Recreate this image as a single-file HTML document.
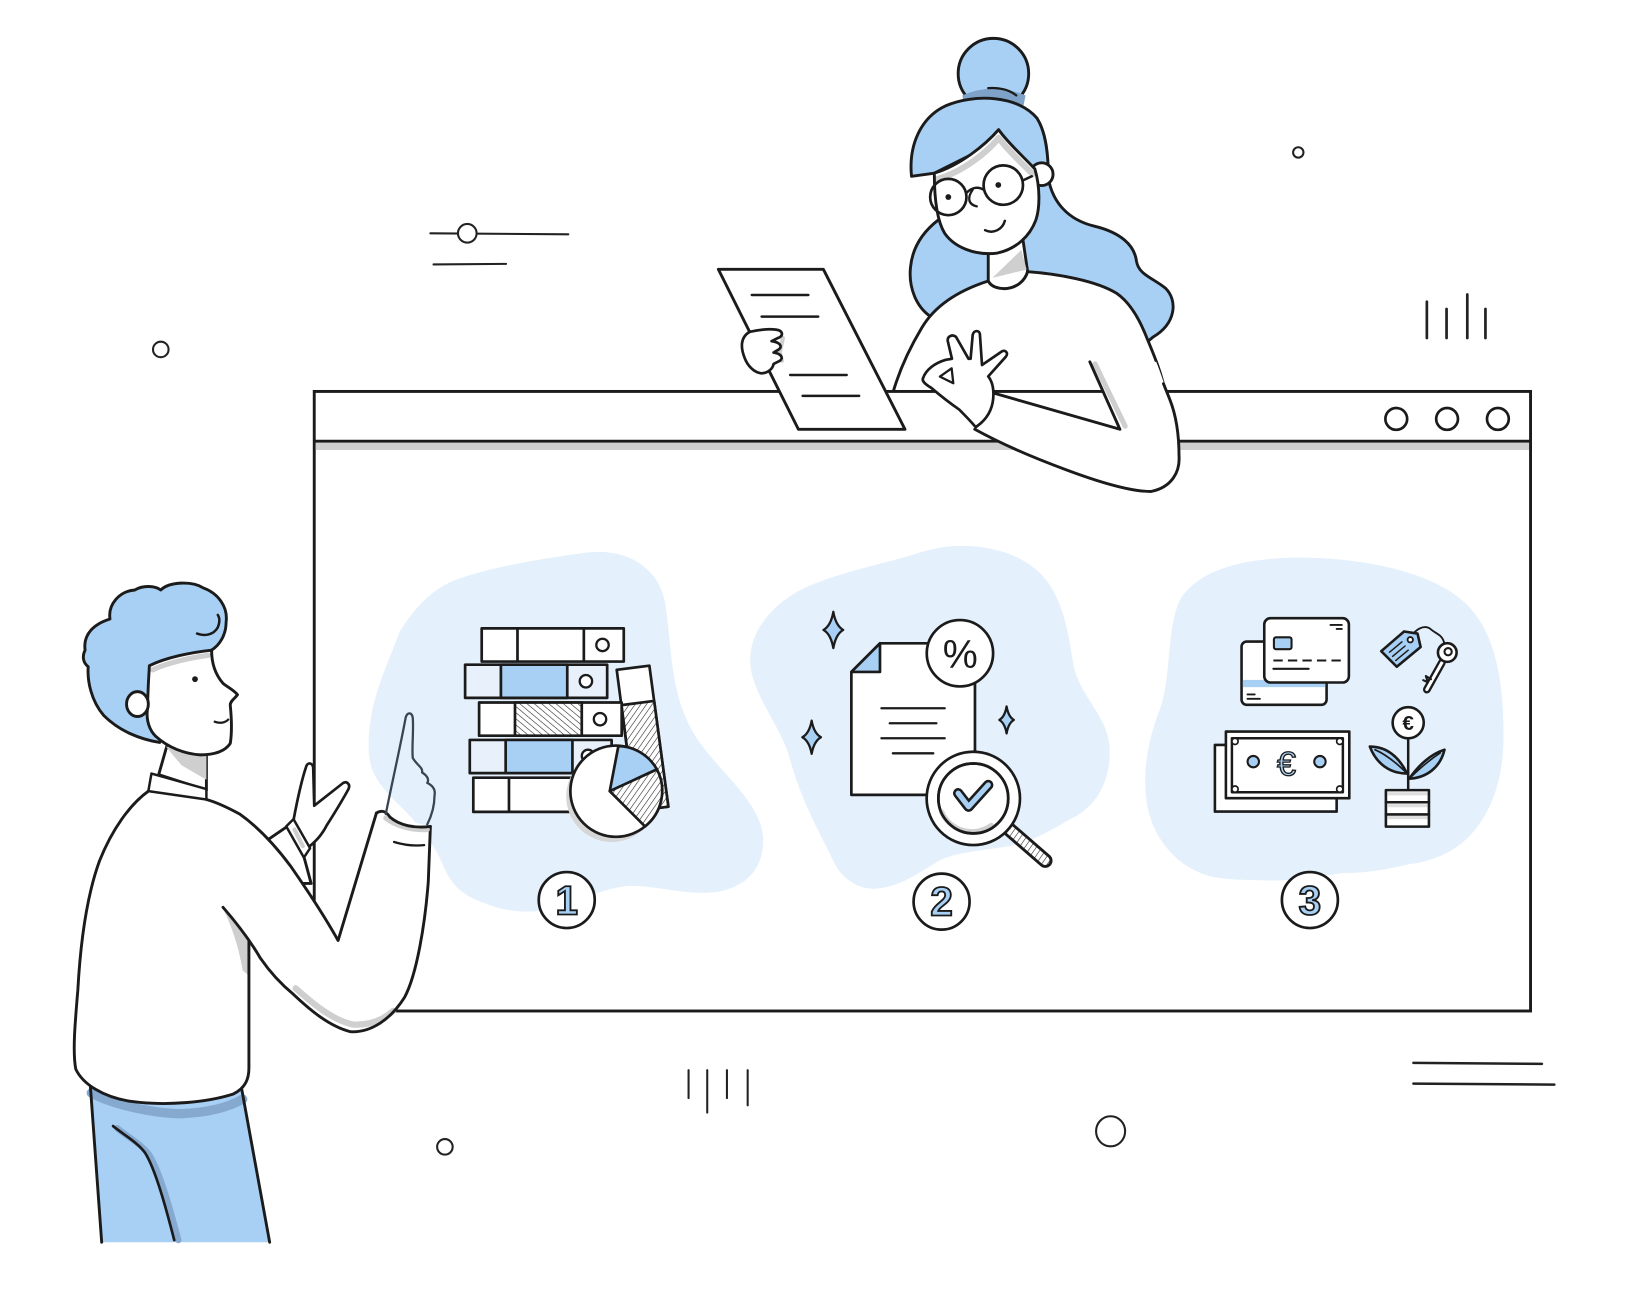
<!DOCTYPE html>
<html><head><meta charset="utf-8"><style>html,body{margin:0;padding:0;background:#fff;}svg{display:block}</style></head>
<body>
<svg xmlns="http://www.w3.org/2000/svg" width="1626" height="1292" viewBox="0 0 1568 1246">
<defs>
<pattern id="hA" width="4.5" height="4.5" patternUnits="userSpaceOnUse" patternTransform="rotate(35)"><rect width="4.5" height="4.5" fill="#fff"/><line x1="0" y1="0" x2="0" y2="4.5" stroke="#222" stroke-width="1.1"/></pattern>
<pattern id="hB" width="4.5" height="4.5" patternUnits="userSpaceOnUse" patternTransform="rotate(-50)"><rect width="4.5" height="4.5" fill="#fff"/><line x1="0" y1="0" x2="0" y2="4.5" stroke="#222" stroke-width="1.1"/></pattern>
</defs>
<rect width="1568" height="1246" fill="#fff"/>

<!-- decorations -->
<g stroke="#222" stroke-width="2" fill="none" stroke-linecap="round">
<line x1="415" y1="225" x2="548" y2="226"/>
<circle cx="450.6" cy="225" r="9" fill="#fff"/>
<line x1="418" y1="255" x2="488" y2="254.5"/>
<circle cx="155" cy="337" r="7.5"/>
<circle cx="1252" cy="147" r="5"/>
<circle cx="702" cy="506" r="8"/>
<circle cx="429" cy="1106" r="7.5"/>
<ellipse cx="1071" cy="1091" rx="14" ry="14.5"/>
<line x1="1376" y1="291" x2="1376" y2="326" stroke-width="2.6"/>
<line x1="1395" y1="298" x2="1395" y2="326" stroke-width="2.6"/>
<line x1="1415" y1="284" x2="1415" y2="326" stroke-width="2.6"/>
<line x1="1432.5" y1="298" x2="1432.5" y2="326" stroke-width="2.6"/>
<line x1="664" y1="1032" x2="664" y2="1059"/>
<line x1="682" y1="1032" x2="682" y2="1073"/>
<line x1="701" y1="1032" x2="701" y2="1059"/>
<line x1="721" y1="1032" x2="721" y2="1066"/>
<line x1="1363" y1="1025" x2="1487" y2="1026" stroke-width="2.4"/>
<line x1="1363" y1="1045" x2="1499" y2="1046" stroke-width="2.4"/>
</g>

<!-- woman back part -->
<g stroke="#1b1b1b" stroke-width="2.8" stroke-linejoin="round" stroke-linecap="round">
<circle cx="958" cy="71" r="34" fill="#A8D0F4"/>
<path d="M 928,92 Q 958,79 989,92 L 987,102 Q 958,92 930,102 Z" fill="#7FA3C8" stroke="none"/>
<path d="M 953,85 Q 970,84 980,92" fill="none" stroke-width="2.2"/>
<path d="M 879,170 C 876,140 888,113 912,102 C 940,90 982,92 1000,114 C 1009,128 1011,150 1011,172 C 1015,195 1030,212 1055,218 C 1080,224 1094,236 1096,252 C 1098,265 1112,268 1124,278 C 1136,290 1134,312 1112,325 L 1100,335 L 1000,335 L 905,325 L 897,305 C 884,296 876,278 878,258 C 880,236 892,222 905,212 L 930,215 L 935,150 L 901,167 Z" fill="#A8D0F4"/>
<circle cx="1004.5" cy="168" r="11" fill="#fff"/>
<path d="M 953,232 L 953,271 C 958,282 985,282 991,262 L 986,228 Z" fill="#fff"/>
<path d="M 985,241 L 990,260 L 957,268 Z" fill="#cfcfcf" stroke="none"/>
<path d="M 953,271 C 925,280 902,294 889,316 C 877,336 867,358 861,379 L 1124,379 C 1120,360 1114,345 1106,326 C 1099,308 1090,292 1077,283 C 1058,271 1020,264 991,262 C 985,282 958,282 953,271 Z" fill="#fff"/>
<path d="M 901,167 C 925,160 950,140 963,125 C 972,138 988,152 998,163 C 1003,180 1003,200 999,212 C 993,228 980,240 962,244 C 940,247 920,238 911,225 C 903,212 901,190 901,167 Z" fill="#fff" stroke="none"/>
<path d="M 903,173 C 928,166 952,147 963,133 C 972,145 985,157 996,168" fill="none" stroke="#cfcfcf" stroke-width="6"/>
<path d="M 901,167 C 925,160 950,140 963,125 C 972,138 988,152 998,163 C 1003,180 1003,200 999,212 C 993,228 980,240 962,244 C 940,247 920,238 911,225 C 903,212 901,190 901,167 Z" fill="none"/>
<circle cx="914.5" cy="190" r="17.5" fill="none" stroke-width="2.6"/>
<circle cx="967.5" cy="178.5" r="19" fill="none" stroke-width="2.6"/>
<path d="M 932,186 C 938,180 944,180 948.5,183" fill="none" stroke-width="2.4"/>
<path d="M 986.5,174 L 995,170" fill="none" stroke-width="2.4"/>
<circle cx="914.5" cy="190" r="2.8" fill="#1b1b1b" stroke="none"/>
<circle cx="962.7" cy="178.4" r="2.8" fill="#1b1b1b" stroke="none"/>
<path d="M 938,183 C 933,190 933,197 942,199" fill="none" stroke-width="2.2"/>
<path d="M 950,222 C 958,226 967,221 969,213" fill="none" stroke-width="2.4"/>
</g>

<!-- window -->
<g stroke="#1b1b1b" stroke-width="2.8">
<rect x="303" y="377.5" width="1173" height="597.5" fill="#fff"/>
<rect x="304.5" y="427" width="1170" height="7" fill="#d0d0d0" stroke="none"/>
<line x1="303" y1="425.5" x2="1476" y2="425.5"/>
<circle cx="1346.5" cy="404" r="10.5" fill="#fff" stroke-width="2.6"/>
<circle cx="1395.5" cy="404" r="10.5" fill="#fff" stroke-width="2.6"/>
<circle cx="1444.5" cy="404" r="10.5" fill="#fff" stroke-width="2.6"/>
</g>

<!-- blobs -->
<g fill="#E4F0FC">
<path d="M 443,558 C 480,545 530,538 565,533 C 605,528 635,548 641,580 C 648,620 645,660 665,700 C 685,740 735,770 736,810 C 736,845 710,862 675,861 C 645,860 620,852 600,855 C 580,858 560,868 540,874 C 515,882 490,880 470,872 C 450,865 437,858 427,834 C 418,812 405,800 398,790 C 385,775 370,765 360,745 C 352,725 356,700 360,680 C 368,650 378,630 385,610 C 400,585 420,565 443,558 Z"/>
<path d="M 770,570 C 805,552 850,545 890,532 C 930,520 975,528 1000,550 C 1025,572 1030,610 1035,640 C 1040,670 1068,690 1070,720 C 1072,755 1055,780 1032,790 C 1015,800 1000,808 987,813 C 960,820 925,820 906,830 C 888,840 870,855 845,857 C 825,858 810,845 803,829 C 795,812 788,800 781,784 C 772,765 767,750 762,733 C 755,705 733,680 725,650 C 718,620 735,590 770,570 Z"/>
<path d="M 1140,575 C 1160,548 1200,540 1240,538 C 1300,536 1370,548 1405,575 C 1440,600 1450,650 1450,710 C 1450,770 1425,810 1390,825 C 1375,831 1365,833 1360,833 C 1340,838 1320,842 1295,842 C 1270,845 1250,849 1231,849 C 1200,849 1180,848 1167,845 C 1140,838 1115,815 1107,780 C 1100,745 1108,710 1120,680 C 1130,645 1125,600 1140,575 Z"/>
</g>

<!-- group 1 -->
<g stroke="#1b1b1b" stroke-width="2.6" stroke-linejoin="round">
<path d="M 594.7,646 L 626.2,642 L 644.5,778 L 612.5,782 Z" fill="#fff"/>
<path d="M 599.3,680 L 630.8,676 L 644.5,778 L 612.5,782 Z" fill="url(#hA)"/>
<rect x="464.5" y="606" width="137" height="32" fill="#fff"/>
<line x1="499" y1="606" x2="499" y2="638"/><line x1="563" y1="606" x2="563" y2="638"/>
<circle cx="581" cy="622" r="6" fill="#fff" stroke-width="2.2"/>
<rect x="448.5" y="641" width="137" height="32" fill="#E8F1FB"/>
<rect x="483" y="641" width="64" height="32" fill="#A8D0F4"/>
<circle cx="565" cy="657" r="6" fill="#fff" stroke-width="2.2"/>
<rect x="462" y="677.5" width="137.5" height="32" fill="#fff"/>
<rect x="496.6" y="677.5" width="64.4" height="32" fill="url(#hB)"/>
<circle cx="578.6" cy="693.6" r="6" fill="#fff" stroke-width="2.2"/>
<rect x="453" y="713.6" width="136.8" height="32" fill="#E8F1FB"/>
<rect x="487.6" y="713.6" width="64.4" height="32" fill="#A8D0F4"/>
<circle cx="567" cy="729" r="6" fill="#fff" stroke-width="2.2"/>
<rect x="456.4" y="750" width="130" height="33" fill="#fff"/>
<line x1="490.8" y1="750" x2="490.8" y2="783"/>
<circle cx="590" cy="768" r="44" fill="#d6d6d6" stroke="none"/>
<circle cx="594" cy="763" r="44" fill="#fff"/>
<path d="M 588,763 L 596.3,719.5 A 44 44 0 0 1 633.5,742 Z" fill="#A8D0F4"/>
<path d="M 588,763 L 633.5,742 A 44 44 0 0 1 622,797 Z" fill="url(#hA)"/>
<circle cx="546.5" cy="868" r="27" fill="#fff"/>
</g>
<text x="546.5" y="882" font-size="39" font-weight="bold" text-anchor="middle" fill="#A8D0F4" stroke="#1b1b1b" stroke-width="1.8" font-family="Liberation Sans, sans-serif">1</text>

<!-- group 2 -->
<g stroke="#1b1b1b" stroke-width="2.6" stroke-linejoin="round" stroke-linecap="round">
<path d="M 803.6,590 Q 805.9,603.3 813.1,607.5 Q 805.9,611.7 803.6,625 Q 801.3,611.7 794.1,607.5 Q 801.3,603.3 803.6,590 Z" fill="#A8D0F4" stroke-width="2.2"/>
<path d="M 782.7,695 Q 784.9,707.2 791.7,711 Q 784.9,714.8 782.7,727 Q 780.5,714.8 773.7,711 Q 780.5,707.2 782.7,695 Z" fill="#A8D0F4" stroke-width="2.2"/>
<path d="M 970.7,681.3 Q 972.4,691.2 977.7,694.3 Q 972.4,697.4 970.7,707.3 Q 969,697.4 963.7,694.3 Q 969,691.2 970.7,681.3 Z" fill="#A8D0F4" stroke-width="2.2"/>
<path d="M 821,648 L 848.6,620.4 L 940.2,620.4 L 940.2,766.6 L 821,766.6 Z" fill="#fff"/>
<path d="M 821,648 L 848.6,620.4 L 848.6,648 Z" fill="#A8D0F4"/>
<line x1="850" y1="683" x2="911" y2="683" stroke-width="2.2"/>
<line x1="858" y1="697.5" x2="903" y2="697.5" stroke-width="2.2"/>
<line x1="850" y1="712" x2="911" y2="712" stroke-width="2.2"/>
<line x1="861" y1="726.5" x2="900" y2="726.5" stroke-width="2.2"/>
<circle cx="925.7" cy="630" r="32" fill="#fff"/>
<line x1="970" y1="797" x2="1008" y2="830" stroke-width="14"/>
<line x1="970" y1="797" x2="1008" y2="830" stroke="url(#hA)" stroke-width="8.5"/>
<circle cx="938.6" cy="770" r="45" fill="#fff"/>
<circle cx="938.6" cy="770" r="33.7" fill="#fff"/>
<path d="M 908,783 A 32 32 0 0 0 956,796" fill="none" stroke="#d0d0d0" stroke-width="5"/>
<circle cx="938.6" cy="770" r="33.7" fill="none"/>
<polyline points="924,765 934,778 953,757" fill="none" stroke-width="10"/>
<polyline points="924,765 934,778 953,757" fill="none" stroke="#A8D0F4" stroke-width="5"/>
</g>
<text x="926" y="644" font-size="38" text-anchor="middle" fill="#1b1b1b" font-family="Liberation Sans, sans-serif">%</text>
<g stroke="#1b1b1b" stroke-width="2.6"><circle cx="908" cy="869.5" r="27" fill="#fff"/></g>
<text x="908" y="883" font-size="39" font-weight="bold" text-anchor="middle" fill="#A8D0F4" stroke="#1b1b1b" stroke-width="1.8" font-family="Liberation Sans, sans-serif">2</text>

<!-- group 3 -->
<g stroke="#1b1b1b" stroke-width="2.5" stroke-linejoin="round" stroke-linecap="round">
<rect x="1197.3" y="618.7" width="82" height="61" rx="5" fill="#fff"/>
<rect x="1198.6" y="655.7" width="79.4" height="7" fill="#A8D0F4" stroke="none"/>
<line x1="1203" y1="669.7" x2="1210" y2="669.7" stroke-width="1.8"/>
<line x1="1203" y1="673.9" x2="1215" y2="673.9" stroke-width="1.8"/>
<rect x="1219.2" y="596.2" width="81.6" height="62" rx="6" fill="#fff"/>
<rect x="1228.5" y="614.6" width="17" height="11.5" rx="2" fill="#A8D0F4" stroke-width="2"/>
<line x1="1228" y1="637" x2="1294" y2="637" stroke-dasharray="9 5" stroke-linecap="butt" stroke-width="2"/>
<line x1="1228" y1="645" x2="1262" y2="645" stroke-width="2"/>
<line x1="1283" y1="602.7" x2="1294" y2="602.7" stroke-width="1.8"/>
<line x1="1289" y1="606.6" x2="1294" y2="606.6" stroke-width="1.8"/>
<path d="M 1360,617 C 1364,606 1374,602 1380,607 C 1386,612 1391,612 1393,621" fill="none" stroke-width="1.8"/>
<path d="M 1332,628 L 1347,643 L 1370,624 L 1367,611 L 1354,609 Z" fill="#A8D0F4"/>
<circle cx="1360" cy="617" r="2.6" fill="#fff" stroke-width="1.8"/>
<line x1="1340" y1="629" x2="1352" y2="619" stroke-width="1.4"/>
<line x1="1343" y1="633" x2="1355" y2="623" stroke-width="1.4"/>
<line x1="1346" y1="637" x2="1358" y2="627" stroke-width="1.4"/>
<line x1="1390.5" y1="639" x2="1376" y2="665" stroke-width="7.5"/>
<line x1="1390.5" y1="639" x2="1376" y2="665" stroke="#fff" stroke-width="3"/>
<path d="M 1380,655 L 1375,652 L 1377,658 L 1372.5,656" fill="none" stroke-width="2"/>
<circle cx="1395.7" cy="629.3" r="9" fill="#fff"/>
<circle cx="1396.5" cy="628.5" r="3.5" fill="#fff" stroke-width="2"/>
<rect x="1171.6" y="718.4" width="117.4" height="64.3" fill="#fff"/>
<rect x="1182.2" y="705.5" width="119" height="64.3" fill="#fff"/>
<rect x="1188" y="712" width="107" height="52" fill="#fff" stroke-width="2.4"/>
<circle cx="1191" cy="715" r="3" fill="#fff" stroke-width="1.6"/>
<circle cx="1292" cy="715" r="3" fill="#fff" stroke-width="1.6"/>
<circle cx="1191" cy="761" r="3" fill="#fff" stroke-width="1.6"/>
<circle cx="1292" cy="761" r="3" fill="#fff" stroke-width="1.6"/>
<circle cx="1208.6" cy="734.5" r="5.5" fill="#A8D0F4" stroke-width="2"/>
<circle cx="1272.9" cy="734.5" r="5.5" fill="#A8D0F4" stroke-width="2"/>
<line x1="1358" y1="762" x2="1358" y2="712" stroke-width="2.4"/>
<path d="M 1357,746 C 1348,728 1336,720 1321,720 C 1327,736 1340,746 1357,746 Z" fill="#A8D0F4"/>
<path d="M 1357,746 C 1345,734 1335,727 1326,723" fill="none" stroke-width="1.6"/>
<path d="M 1359,751 C 1368,738 1380,727 1393,723 C 1389,740 1376,750 1359,751 Z" fill="#A8D0F4"/>
<path d="M 1359,751 C 1370,740 1380,732 1389,726" fill="none" stroke-width="1.6"/>
<circle cx="1358" cy="697" r="15" fill="#fff"/>
<rect x="1336.5" y="762" width="41.5" height="35.2" fill="#fff"/>
<rect x="1338" y="764" width="38.5" height="3" fill="#ddd" stroke="none"/>
<rect x="1338" y="775.5" width="38.5" height="3" fill="#ddd" stroke="none"/>
<rect x="1338" y="787" width="38.5" height="3" fill="#ddd" stroke="none"/>
<line x1="1336.5" y1="773.7" x2="1378" y2="773.7"/>
<line x1="1336.5" y1="785.4" x2="1378" y2="785.4"/>
<circle cx="1263.2" cy="868" r="27" fill="#fff" stroke-width="2.6"/>
</g>
<text x="1240.7" y="748" font-size="33" text-anchor="middle" fill="#A8D0F4" stroke="#1b1b1b" stroke-width="1.3" font-family="Liberation Sans, sans-serif">€</text>
<text x="1358" y="704" font-size="20" font-weight="bold" text-anchor="middle" fill="#1b1b1b" font-family="Liberation Sans, sans-serif">€</text>
<text x="1263.2" y="882" font-size="39" font-weight="bold" text-anchor="middle" fill="#A8D0F4" stroke="#1b1b1b" stroke-width="1.8" font-family="Liberation Sans, sans-serif">3</text>

<!-- woman front part -->
<g stroke="#1b1b1b" stroke-width="2.8" stroke-linejoin="round" stroke-linecap="round">
<path d="M 692.7,259.7 L 794,259.7 L 872.7,414 L 769.9,414 Z" fill="#fff"/>
<line x1="725" y1="284.5" x2="779.5" y2="284.5" stroke-width="2.4"/>
<line x1="734.5" y1="305.3" x2="789" y2="305.3" stroke-width="2.4"/>
<line x1="762" y1="361.6" x2="816.5" y2="361.6" stroke-width="2.4"/>
<line x1="774" y1="381.8" x2="828.5" y2="381.8" stroke-width="2.4"/>
<path d="M 755,326 L 752,340 L 754,348" fill="none" stroke="#cfcfcf" stroke-width="4"/>
<path d="M 723,320 C 732,318 742,317 749,318 C 755,319 756,324 750,326 L 744,329 C 752,330 755,334 751,337 L 746,340 C 753,341 756,345 752,348 L 746,351 C 745,356 740,360 734,360 C 727,359 721,353 718,345 C 714,335 714,325 723,320 Z" fill="#fff" stroke-width="2.6"/>
<path d="M 1051,349 L 1080,414 L 958,379 L 956,386 L 951,399 L 941,410 L 940,414 C 960,425 990,439 1028,453 C 1060,465 1090,474 1110,474 C 1130,470 1138,455 1137,440 C 1137,420 1134,400 1127,383 C 1122,368 1118,356 1115,349 Z" fill="#fff" stroke="none"/>
<path d="M 1056,351 L 1085,411" fill="none" stroke="#cfcfcf" stroke-width="5"/>
<path d="M 1051,349 L 1080,414 L 958,379" fill="none"/>
<path d="M 940,414 C 960,425 990,439 1028,453 C 1060,465 1090,474 1110,474 C 1130,470 1138,455 1137,440 C 1137,420 1134,400 1128,385 L 1122,370" fill="none"/>
<path d="M 890,365 C 893,356 902,350 912,347 L 918,346 L 914,329 C 913,324 919,322 922,325 L 934,346 L 936,346 L 938,323 C 939,318 945,318 945,323 L 947,352 L 966,339 C 969,337 973,340 970,344 L 953,363 C 957,368 958,374 958,380 C 958,390 955,400 946,408 L 941,412 C 935,405 930,400 925,395 C 915,388 905,380 898,374 C 893,371 889,368 890,365 Z" fill="#fff" stroke-width="2.6"/>
<path d="M 906.4,363.2 L 917.7,355.2 L 919.3,369.6 Z" fill="#fff" stroke-width="2.2"/>
</g>

<!-- man -->
<g stroke="#1b1b1b" stroke-width="2.8" stroke-linejoin="round" stroke-linecap="round">
<path d="M 87,1046 L 98,1198 L 260,1198 L 233,1050 Z" fill="#A8D0F4" stroke="none"/>
<path d="M 88,1054 C 110,1066 150,1074 175,1074 C 200,1073 220,1068 234,1060" fill="none" stroke="#86A9CF" stroke-width="9"/>
<path d="M 113,1088 C 124,1097 137,1104 144,1114 C 154,1130 164,1166 172,1196" fill="none" stroke="#86A9CF" stroke-width="6"/>
<path d="M 109,1086 C 120,1095 133,1102 140,1112 C 150,1128 160,1165 168,1196" fill="none" stroke-width="2.6"/>
<line x1="87" y1="1046" x2="98" y2="1198"/>
<line x1="233" y1="1050" x2="260" y2="1198"/>
<path d="M 258,810 L 277,797 L 293,826 L 300,852 L 280,852 Z" fill="#fff"/>
<path d="M 283,791 C 286,775 290,755 295,740 C 296,735 301,735 302,740 L 303,777 L 331,755 C 335,753 338,757 336,761 C 330,772 322,785 315,796 C 310,806 303,813 296,818 Z" fill="#fff" stroke-width="2.6"/>
<path d="M 276,797 L 283,790 L 299,818 L 293,827 Z" fill="#fff" stroke-width="2.4"/>
<path d="M 284,800 L 292,816" fill="none" stroke="#cfcfcf" stroke-width="4"/>
<path d="M 163,712 L 153,747 L 199,762 L 199,720 Z" fill="#fff"/>
<path d="M 160,720 L 199,727 L 199,752 L 175,738 Z" fill="#cfcfcf" stroke="none"/>
<path d="M 143,763 C 125,776 108,800 96,830 C 85,860 78,900 75,955 C 72,990 70,1015 73,1031 C 80,1046 100,1058 125,1062 C 160,1067 200,1063 225,1055 C 237,1049 240,1040 240,1030 L 240,907 L 251,924 C 262,940 272,950 283,959 C 300,975 318,990 338,995 C 357,996 376,984 390,962 C 402,940 410,890 413,850 L 415,797 L 363,784 L 326,907 C 312,882 296,858 280,835 C 265,815 248,797 231,785 C 220,779 210,774 199,771 Z" fill="#fff" stroke="none"/>
<path d="M 216,878 L 239,906 L 239,940 L 234,936 C 231,918 226,900 216,878 Z" fill="#cfcfcf" stroke="none"/>
<path d="M 285,953 C 305,971 322,984 340,988 C 357,989 370,983 379,975" fill="none" stroke="#cfcfcf" stroke-width="6"/>
<path d="M 143,763 C 125,776 108,800 96,830 C 85,860 78,900 75,955 C 72,990 70,1015 73,1031 C 80,1046 100,1058 125,1062 C 160,1067 200,1063 225,1055 C 237,1049 240,1040 240,1030 L 240,907" fill="none"/>
<path d="M 215,875 C 228,890 240,905 251,924 C 262,940 272,950 283,959 C 300,975 318,990 338,995 C 357,996 376,984 390,962 C 402,940 410,890 413,850 L 415,797" fill="none"/>
<path d="M 363,784 L 326,907 C 312,882 296,858 280,835 C 265,815 248,797 231,785 C 220,779 210,774 199,771" fill="none"/>
<path d="M 372,789 C 381,796 396,801 412,800" fill="none" stroke="#cfcfcf" stroke-width="5"/>
<path d="M 363,784 C 368,781 372,782 376,788 C 385,796 400,799 415,797" fill="none"/>
<path d="M 380,812 C 390,815 400,816 409,815" fill="none" stroke-width="2.2"/>
<path d="M 372,785 C 378,755 386,720 391,693 C 392,687 397,686 398,692 C 399,705 397,720 398,731 C 402,738 408,740 407,745 C 412,748 414,752 412,755 C 418,758 420,762 419,767 C 419,777 416,787 412,795" fill="none" stroke="#3a4452" stroke-width="2.2"/>
<path d="M 146,746 L 199,761 L 199,771 L 143,763 Z" fill="#fff" stroke-width="2.4"/>
<path d="M 82,627 C 80,612 90,602 106,597 C 104,583 115,570 130,569 C 138,564 150,565 155,569 C 163,561 185,560 196,567 C 210,572 220,585 218,600 C 218,612 212,622 204,627 L 204,650 L 160,700 L 154,716 C 135,713 115,705 100,690 C 88,676 84,657 85,643 C 80,639 79,633 82,627 Z" fill="#A8D0F4"/>
<path d="M 144,642 C 160,634 185,629 204,627 C 204,640 208,651 215,659 C 220,663 226,666 229,670 C 226,674 222,676 222,680 C 223,690 224,705 222,717 C 216,726 203,728 193,728 C 178,727 162,721 150,710 C 144,704 141,695 142,685 L 143,660 Z" fill="#fff" stroke="none"/>
<path d="M 147,646 C 162,639 185,634 201,632" fill="none" stroke="#cfcfcf" stroke-width="5"/>
<path d="M 144,642 C 160,634 185,629 204,627 C 204,640 208,651 215,659 C 220,663 226,666 229,670 C 226,674 222,676 222,680 C 223,690 224,705 222,717 C 216,726 203,728 193,728 C 178,727 162,721 150,710 C 144,704 141,695 142,685 L 143,660 Z" fill="none"/>
<ellipse cx="132.5" cy="679" rx="10.5" ry="12" fill="#fff"/>
<path d="M 190,611 C 198,614 206,612 210,605 C 212,600 212,596 210,593" fill="none" stroke-width="2.4"/>
<circle cx="188" cy="655" r="2.8" fill="#1b1b1b" stroke="none"/>
<path d="M 207,696 C 212,698 217,697 220,694" fill="none" stroke-width="2.2"/>
</g>
</svg>
</body></html>
